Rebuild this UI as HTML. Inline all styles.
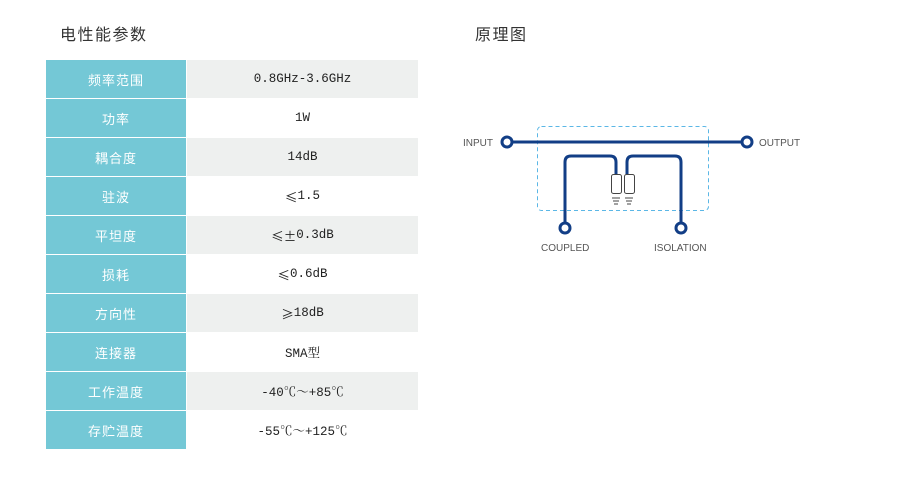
<!DOCTYPE html>
<html><head><meta charset="utf-8"><style>
body{margin:0;width:923px;height:498px;background:#fff;position:relative;font-family:"Liberation Serif","Noto Serif CJK SC",serif;}
.t{position:absolute;font-family:"Liberation Sans","Noto Sans CJK SC",sans-serif;font-size:16px;color:#333;letter-spacing:1.5px}
.r{position:absolute;left:46px;width:372px;height:38px;display:flex}
.l{width:140px;background:#74c8d6;color:#fff;font-family:"Liberation Sans","Noto Sans CJK SC",sans-serif;font-size:13px;display:flex;align-items:center;justify-content:center;letter-spacing:1px}
.v{margin-left:1px;flex:1;display:flex;align-items:center;justify-content:center;font-size:12.5px;color:#222;font-family:"Liberation Mono","Noto Serif CJK SC",monospace}
.g .v{background:#eef0ef}
.c{font-family:"Noto Sans CJK SC",sans-serif}
</style></head><body>
<div class="t" style="left:60px;top:21px">电性能参数</div>
<div class="t" style="left:475px;top:21px">原理图</div>
<div class="r g" style="top:60px"><div class="l">频率范围</div><div class="v">0.8GHz-3.6GHz</div></div>
<div class="r" style="top:99px"><div class="l">功率</div><div class="v">1W</div></div>
<div class="r g" style="top:138px"><div class="l">耦合度</div><div class="v">14dB</div></div>
<div class="r" style="top:177px"><div class="l">驻波</div><div class="v"><span class="c">≤</span>1.5</div></div>
<div class="r g" style="top:216px"><div class="l">平坦度</div><div class="v"><span class="c">≤±</span>0.3dB</div></div>
<div class="r" style="top:255px"><div class="l">损耗</div><div class="v"><span class="c">≤</span>0.6dB</div></div>
<div class="r g" style="top:294px"><div class="l">方向性</div><div class="v"><span class="c">≥</span>18dB</div></div>
<div class="r" style="top:333px"><div class="l">连接器</div><div class="v">SMA型</div></div>
<div class="r g" style="top:372px"><div class="l">工作温度</div><div class="v">-40℃～+85℃</div></div>
<div class="r" style="top:411px"><div class="l">存贮温度</div><div class="v">-55℃～+125℃</div></div>
<svg style="position:absolute;left:0;top:0" width="923" height="498">
<rect x="537.5" y="126.5" width="171" height="84" rx="4" fill="none" stroke="#5bb7e6" stroke-dasharray="4,3"/>
<g stroke="#123e86" stroke-width="3" fill="none">
<line x1="512" y1="142" x2="742" y2="142"/>
<path d="M565 223 V162 Q565 156 571 156 H610 Q616 156 616 162 V174"/>
<path d="M681 223 V162 Q681 156 675 156 H633 Q627 156 627 162 V174"/>
<circle cx="507" cy="142" r="5" fill="#fff"/>
<circle cx="747" cy="142" r="5" fill="#fff"/>
<circle cx="565" cy="228" r="5" fill="#fff"/>
<circle cx="681" cy="228" r="5" fill="#fff"/>
</g>
<g stroke="#444" stroke-width="1" fill="#fff">
<rect x="611.5" y="174.5" width="10" height="19" rx="2"/>
<rect x="624.5" y="174.5" width="10" height="19" rx="2"/>
<path d="M612 198h8M613 201h6M614 204h4M625 198h8M626 201h6M627 204h4" fill="none"/>
</g>
<g font-family="Liberation Sans,sans-serif" font-size="10" fill="#555">
<text x="463" y="146">INPUT</text>
<text x="759" y="146">OUTPUT</text>
<text x="541" y="251">COUPLED</text>
<text x="654" y="251">ISOLATION</text>
</g>
</svg>
</body></html>
